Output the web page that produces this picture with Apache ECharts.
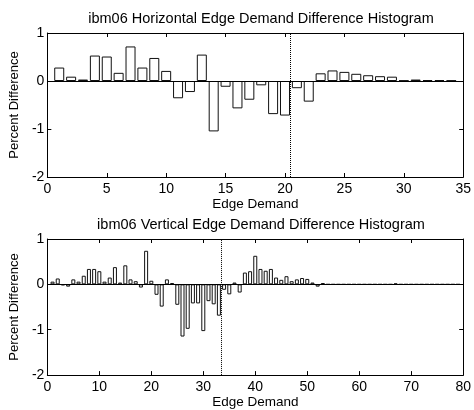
<!DOCTYPE html>
<html>
<head>
<meta charset="utf-8">
<script src="https://cdn.jsdelivr.net/npm/echarts@6/dist/echarts.min.js"></script>
<style>
  html, body { margin: 0; padding: 0; background: #fff; }
  #chart { width: 474px; height: 410px; }
</style>
</head>
<body>
<div id="chart"></div>
<script>
// horizontal edge demand (top plot)
const hDemand = [1, 2, 3, 4, 5, 6, 7, 8, 9, 10, 11, 12, 13, 14, 15, 16, 17,
  18, 19, 20, 21, 22, 23, 24, 25, 26, 27, 28, 29, 30, 31, 32, 33, 34]
const hDiff = [0.28, 0.09, 0.03, 0.53, 0.51, 0.17, 0.72, 0.28, 0.48, 0.21, -0.36, -0.23, 0.55, -1.05, -0.12, -0.57, -0.39,
  -0.09, -0.69, -0.72, -0.15, -0.43, 0.16, 0.22, 0.19, 0.15, 0.12, 0.10, 0.09, 0.01, 0.03, 0.02, 0.02, 0.01]
const hMarker = 20.45

// vertical edge demand (bottom plot)
const vDemand = [1, 2, 3, 4, 5, 6, 7, 8, 9, 10, 11, 12, 13, 14, 15, 16, 17, 18, 19, 20,
  21, 22, 23, 24, 25, 26, 27, 28, 29, 30, 31, 32, 33, 34, 35, 36, 37, 38, 39, 40,
  41, 42, 43, 44, 45, 46, 47, 48, 49, 50, 51, 52, 53, 54, 55, 56, 57, 58, 59, 60,
  61, 62, 63, 64, 65, 66, 67, 68, 69, 70, 71, 72, 73, 74, 75, 76, 77, 78, 79]
const vDiff = [0.06, 0.13, -0.02, -0.05, 0.11, 0.06, 0.19, 0.34, 0.34, 0.29, 0.06, 0.15, 0.38, 0.04, 0.42, 0.11, 0.07, -0.07, 0.74, 0.08,
  -0.23, -0.49, 0.11, 0.03, -0.45, -1.15, -0.98, -0.42, -0.42, -1.03, -0.37, -0.44, -0.69, -0.12, -0.22, 0.04, -0.18, 0.26, 0.29, 0.63,
  0.34, 0.30, 0.34, 0.15, 0.10, 0.18, 0.07, 0.11, 0.14, 0.12, 0.04, -0.05, 0.03, 0, 0, 0, 0, 0, 0, 0,
  0, 0, 0, 0, 0, 0, 0.02, 0, 0, 0, 0, 0, 0, 0, 0, 0, 0, 0, 0]
const vMarker = 33.5

const titles = ['ibm06 Horizontal Edge Demand Difference Histogram', 'ibm06 Vertical Edge Demand Difference Histogram']
const xLabel = 'Edge Demand'
const yLabel = 'Percent Difference'

const font = 'Liberation Sans, Arial, Helvetica, sans-serif'
const chart = echarts.init(document.getElementById('chart'))

// one pair of axes (bottom/left with labels, top/right with ticks only)
function xAxes(gridIndex, max, interval) {
  const base = {
    type: 'value', gridIndex, min: 0, max, interval,
    splitLine: { show: false },
    axisLine: { show: true, onZero: false, lineStyle: { color: '#000', width: 1 } },
    axisTick: { show: true, inside: true, length: 4, lineStyle: { color: '#000' } },
  }
  return [
    {
      ...base, position: 'bottom',
      axisLabel: { color: '#000', fontSize: 14, fontFamily: font, margin: 5 },
      name: xLabel, nameLocation: 'middle', nameGap: 19,
      nameTextStyle: { color: '#000', fontSize: 13.5, fontFamily: font },
    },
    { ...base, position: 'top', axisLabel: { show: false } },
  ]
}
function yAxes(gridIndex) {
  const base = {
    type: 'value', gridIndex, min: -2, max: 1, interval: 1,
    splitLine: { show: false },
    axisLine: { show: true, onZero: false, lineStyle: { color: '#000', width: 1 } },
    axisTick: { show: true, inside: true, length: 4, lineStyle: { color: '#000' } },
  }
  return [
    {
      ...base, position: 'left',
      axisLabel: { color: '#000', fontSize: 14, fontFamily: font, margin: 3 },
      name: yLabel, nameLocation: 'middle', nameGap: 19,
      nameTextStyle: { color: '#000', fontSize: 13, fontFamily: font },
    },
    { ...base, position: 'right', axisLabel: { show: false } },
  ]
}

function barSeries(axisIdx, xs, ys, width, marker) {
  return {
    type: 'bar',
    xAxisIndex: axisIdx,
    yAxisIndex: axisIdx,
    barWidth: width,
    data: xs.map((x, i) => [x, ys[i]]),
    itemStyle: { color: '#fff', borderColor: '#111', borderWidth: 1 },
    silent: true,
    markLine: {
      silent: true,
      symbol: 'none',
      label: { show: false },
      data: [
        { yAxis: 0, lineStyle: { color: '#000', type: 'solid', width: 1 } },
        { xAxis: marker, lineStyle: { color: '#000', type: 'dotted', width: 1 } },
      ],
    },
  }
}

const option = {
  backgroundColor: '#fff',
  animation: false,
  title: [
    { text: titles[0], left: 256, top: 6, textAlign: 'center',
      textStyle: { fontSize: 14.5, fontWeight: 'normal', color: '#000', fontFamily: font } },
    { text: titles[1], left: 256, top: 212, textAlign: 'center',
      textStyle: { fontSize: 14.5, fontWeight: 'normal', color: '#000', fontFamily: font } },
  ],
  grid: [
    { left: 46, top: 33, width: 421, height: 144 },
    { left: 46, top: 239, width: 421, height: 139 },
  ],
  xAxis: [...xAxes(0, 35, 5), ...xAxes(1, 80, 10)],
  yAxis: [...yAxes(0), ...yAxes(1)],
  series: [
    barSeries(0, hDemand, hDiff, 10, hMarker),
    barSeries(2, vDemand, vDiff, 4, vMarker),
  ],
}
chart.setOption(option)
</script>
</body>
</html>
